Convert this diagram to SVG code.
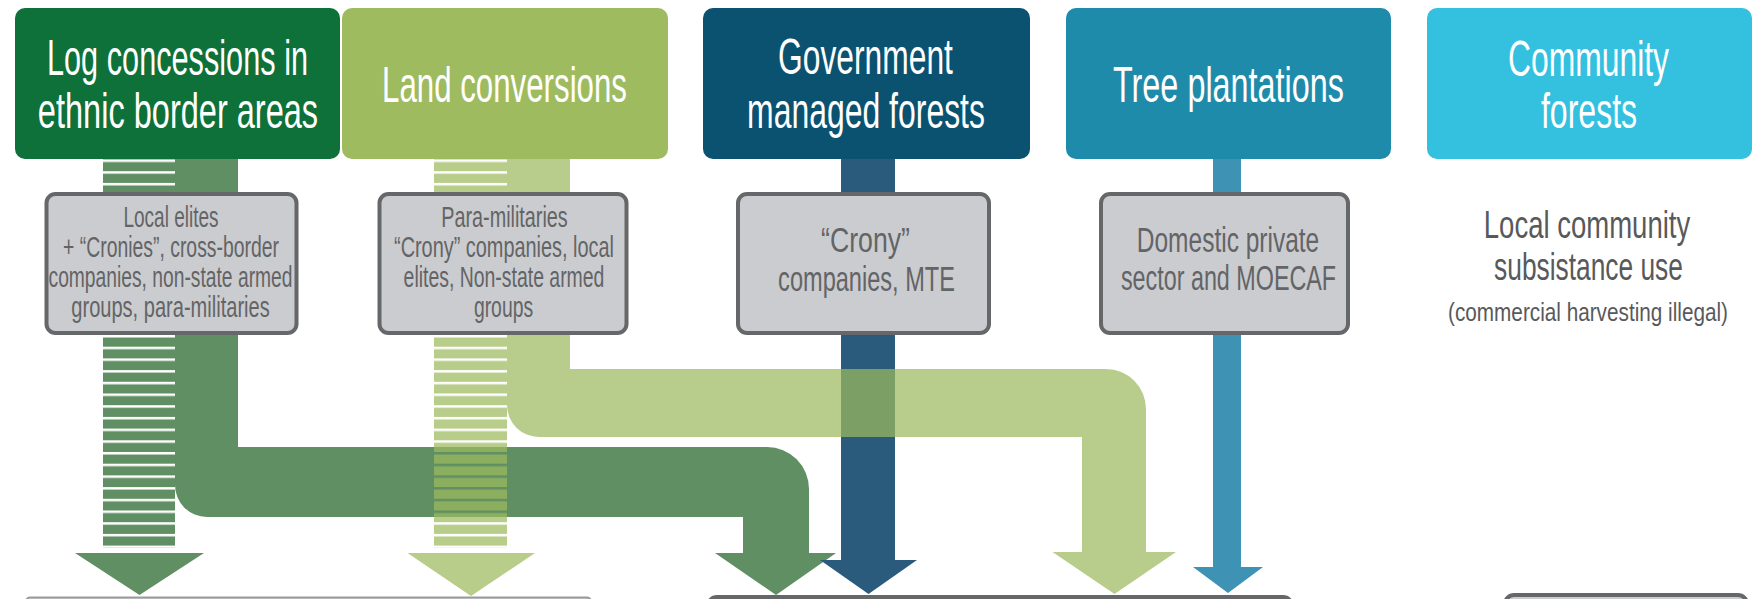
<svg xmlns="http://www.w3.org/2000/svg" width="1758" height="599" viewBox="0 0 1758 599">
  <style>
    .hdr { font-family: "Liberation Sans Narrow", "Liberation Sans", Arial, sans-serif; font-size: 50px; fill: #ffffff; text-anchor: middle; }
    .act { font-family: "Liberation Sans Narrow", "Liberation Sans", Arial, sans-serif; fill: #636466; text-anchor: middle; }
    .s1 { font-size: 29px; }
    .s2 { font-size: 35px; }
    .note { font-family: "Liberation Sans Narrow", "Liberation Sans", Arial, sans-serif; fill: #58595b; text-anchor: middle; }
    .actor { fill: #cbcccf; stroke: #666769; stroke-width: 4; }
  </style>
  <defs>
    <!-- horizontal hatching used for the direct (striped) flows -->
    <pattern id="stripeDark" patternUnits="userSpaceOnUse" x="0" y="335" width="10" height="11.7">
      <rect y="2.5" width="10" height="9.2" fill="#5f8f62"/>
    </pattern>
    <pattern id="stripeLight" patternUnits="userSpaceOnUse" x="0" y="335" width="10" height="11.7">
      <rect y="2.5" width="10" height="9.2" fill="#9dba5e"/>
    </pattern>
  </defs>

  <rect width="1758" height="599" fill="#ffffff"/>

  <!-- flows -->
  <g id="connectors">
    <!-- log concessions: direct striped flow and routed flow -->
    <g id="flow-log" fill="#5f8f62">
      <rect x="103" y="159" width="72" height="389" fill="url(#stripeDark)"/>
      <path d="M75,553 H204 L139.5,595 Z"/>
      <path d="M175,159 H238 V447 H767 A42 42 0 0 1 809 489 V553 H836 L776,595 L715,553 H743 V517 H207 A32 32 0 0 1 175 485 Z"/>
    </g>
    <!-- government managed forests -->
    <g id="flow-gov" fill="#2a5b7c">
      <rect x="841" y="159" width="54" height="402"/>
      <path d="M820,560 H917 L868.5,594 Z"/>
    </g>
    <!-- land conversions (translucent, overlaps the other flows) -->
    <g id="flow-land" fill="#9dba5e" opacity="0.72">
      <rect x="434" y="159" width="73" height="389" fill="url(#stripeLight)"/>
      <path d="M407.5,553 H535 L471,596 Z"/>
      <path d="M507,159 H570 V369 H1106 A40 40 0 0 1 1146 409 V552 H1176 L1114.5,594 L1052.5,552 H1082 V437 H539 A32 32 0 0 1 507 405 Z"/>
    </g>
    <!-- tree plantations -->
    <g id="flow-tree" fill="#3e92b4">
      <rect x="1213" y="159" width="28" height="409"/>
      <path d="M1193,567 H1263 L1228,593 Z"/>
    </g>
  </g>

  <!-- source categories (condensed headings: scaled horizontally) -->
  <g id="src-log">
    <rect x="15" y="8" width="325" height="151" rx="10" fill="#0e7139"/>
    <text class="hdr" transform="translate(177.5 75) scale(0.77 1)" textLength="339" lengthAdjust="spacingAndGlyphs">Log concessions in</text>
    <text class="hdr" transform="translate(178 128) scale(0.77 1)" textLength="364" lengthAdjust="spacingAndGlyphs">ethnic border areas</text>
  </g>
  <g id="src-land">
    <rect x="342" y="8" width="326" height="151" rx="10" fill="#9fbb60"/>
    <text class="hdr" transform="translate(504.5 102) scale(0.77 1)" textLength="318" lengthAdjust="spacingAndGlyphs">Land conversions</text>
  </g>
  <g id="src-gov">
    <rect x="703" y="8" width="327" height="151" rx="10" fill="#0b5271"/>
    <text class="hdr" transform="translate(865.5 74) scale(0.77 1)" textLength="227" lengthAdjust="spacingAndGlyphs">Government</text>
    <text class="hdr" transform="translate(866 128) scale(0.77 1)" textLength="309" lengthAdjust="spacingAndGlyphs">managed forests</text>
  </g>
  <g id="src-tree">
    <rect x="1066" y="8" width="325" height="151" rx="10" fill="#1f8bab"/>
    <text class="hdr" transform="translate(1228.5 102) scale(0.77 1)" textLength="300" lengthAdjust="spacingAndGlyphs">Tree plantations</text>
  </g>
  <g id="src-community">
    <rect x="1427" y="8" width="325" height="151" rx="10" fill="#34c0df"/>
    <text class="hdr" transform="translate(1588.5 76) scale(0.77 1)" textLength="209" lengthAdjust="spacingAndGlyphs">Community</text>
    <text class="hdr" transform="translate(1589 128) scale(0.77 1)" textLength="125" lengthAdjust="spacingAndGlyphs">forests</text>
  </g>

  <!-- actors -->
  <g id="actor-log">
    <rect class="actor" x="46.5" y="194" width="250" height="139" rx="9"/>
    <text class="act s1" transform="translate(171 227) scale(0.8 1)" textLength="119" lengthAdjust="spacingAndGlyphs">Local elites</text>
    <text class="act s1" transform="translate(171 257) scale(0.8 1)" textLength="270" lengthAdjust="spacingAndGlyphs">+ “Cronies”, cross-border</text>
    <text class="act s1" transform="translate(170.5 287) scale(0.8 1)" textLength="305" lengthAdjust="spacingAndGlyphs">companies, non-state armed</text>
    <text class="act s1" transform="translate(170.5 317) scale(0.8 1)" textLength="248" lengthAdjust="spacingAndGlyphs">groups, para-militaries</text>
  </g>
  <g id="actor-land">
    <rect class="actor" x="379.5" y="194" width="247" height="139" rx="9"/>
    <text class="act s1" transform="translate(504.5 227) scale(0.8 1)" textLength="158" lengthAdjust="spacingAndGlyphs">Para-militaries</text>
    <text class="act s1" transform="translate(504 257) scale(0.8 1)" textLength="275" lengthAdjust="spacingAndGlyphs">“Crony” companies, local</text>
    <text class="act s1" transform="translate(504 287) scale(0.8 1)" textLength="251" lengthAdjust="spacingAndGlyphs">elites, Non-state armed</text>
    <text class="act s1" transform="translate(503.5 317) scale(0.8 1)" textLength="74" lengthAdjust="spacingAndGlyphs">groups</text>
  </g>
  <g id="actor-gov">
    <rect class="actor" x="738" y="194" width="251" height="139" rx="9"/>
    <text class="act s2" transform="translate(865.5 252) scale(0.8 1)" textLength="111" lengthAdjust="spacingAndGlyphs">“Crony”</text>
    <text class="act s2" transform="translate(866.5 291) scale(0.8 1)" textLength="221" lengthAdjust="spacingAndGlyphs">companies, MTE</text>
  </g>
  <g id="actor-tree">
    <rect class="actor" x="1101" y="194" width="247" height="139" rx="9"/>
    <text class="act s2" transform="translate(1228 252) scale(0.8 1)" textLength="228" lengthAdjust="spacingAndGlyphs">Domestic private</text>
    <text class="act s2" transform="translate(1228.5 290) scale(0.8 1)" textLength="269" lengthAdjust="spacingAndGlyphs">sector and MOECAF</text>
  </g>
  <g id="actor-community">
    <text class="note" font-size="38" transform="translate(1587 238) scale(0.8 1)" textLength="258" lengthAdjust="spacingAndGlyphs">Local community</text>
    <text class="note" font-size="38" transform="translate(1588.5 280) scale(0.8 1)" textLength="236" lengthAdjust="spacingAndGlyphs">subsistance use</text>
    <text class="note" font-size="25" transform="translate(1588 321) scale(0.8 1)" textLength="350" lengthAdjust="spacingAndGlyphs">(commercial harvesting illegal)</text>
  </g>

  <!-- destination boxes (top edges) -->
  <g id="dest-1">
    <rect x="26" y="597.5" width="565" height="40" rx="4" fill="#d2d3d5" stroke="#9a9b9d" stroke-width="2"/>
  </g>
  <g id="dest-2">
    <rect x="708" y="597" width="584" height="60" rx="9" fill="#cbcccf" stroke="#666769" stroke-width="4"/>
  </g>
  <g id="dest-3">
    <rect x="1505" y="595" width="242" height="60" rx="9" fill="#cbcccf" stroke="#666769" stroke-width="4"/>
  </g>
</svg>
